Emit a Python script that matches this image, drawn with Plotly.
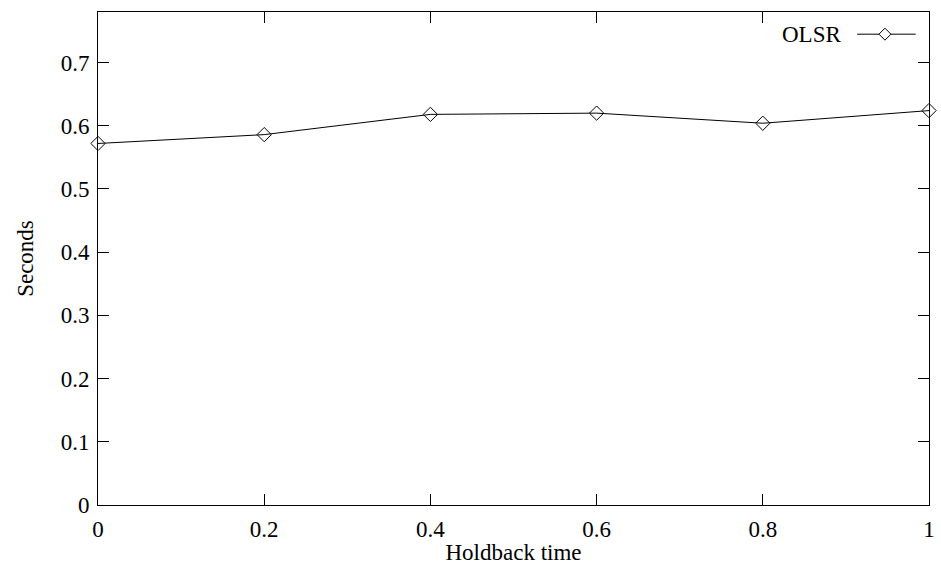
import plotly.graph_objects as go

# Holdback time vs. seconds for OLSR
holdback = [0, 0.2, 0.4, 0.6, 0.8, 1.0]
seconds = [0.572, 0.586, 0.618, 0.620, 0.604, 0.624]
x_ticks = [0, 0.2, 0.4, 0.6, 0.8, 1.0]
x_labels = ["0", "0.2", "0.4", "0.6", "0.8", "1"]
y_ticks = [0, 0.1, 0.2, 0.3, 0.4, 0.5, 0.6, 0.7]
y_labels = ["0", "0.1", "0.2", "0.3", "0.4", "0.5", "0.6", "0.7"]
series_name = "OLSR"

FONT = "Liberation Serif, Times New Roman, serif"
TICK_SIZE = 23
TITLE_SIZE = 23

fig = go.Figure()
fig.add_trace(go.Scatter(
    x=holdback, y=seconds, mode="lines+markers", name=series_name,
    line=dict(color="black", width=1),
    marker=dict(symbol="diamond-open", size=11, color="black", line=dict(width=1)),
    showlegend=False, cliponaxis=False,
))

axis_common = dict(
    showline=True, linecolor="black", linewidth=1, mirror="ticks",
    ticks="inside", ticklen=11, tickcolor="black", tickwidth=1,
    showgrid=False, zeroline=False,
    tickfont=dict(family=FONT, size=TICK_SIZE, color="black"),
)

fig.update_layout(
    width=941, height=571,
    margin=dict(l=98, r=6, t=12, b=66),
    paper_bgcolor="white", plot_bgcolor="white",
    font=dict(family=FONT, size=TICK_SIZE, color="black"),
    xaxis=dict(
        range=[0, 1], tickvals=x_ticks, ticktext=x_labels,
        title=dict(text="Holdback time", font=dict(family=FONT, size=TITLE_SIZE), standoff=3),
        ticklabelstandoff=3,
        **axis_common,
    ),
    yaxis=dict(
        range=[0, 0.78], tickvals=y_ticks, ticktext=y_labels,
        title=dict(text="Seconds", font=dict(family=FONT, size=TITLE_SIZE), standoff=20),
        ticklabelstandoff=3,
        **axis_common,
    ),
)

# Key: label on the left, line sample with a diamond on the right
fig.add_annotation(
    xref="paper", yref="paper", x=0.897, y=0.955, xanchor="right", yanchor="middle",
    text=series_name, showarrow=False, font=dict(family=FONT, size=TITLE_SIZE, color="black"),
)
fig.add_shape(
    type="line", xref="paper", yref="paper",
    x0=0.9135, x1=0.984, y0=0.955, y1=0.955,
    line=dict(color="black", width=1),
)
fig.add_shape(
    type="path", xref="paper", yref="paper",
    xsizemode="pixel", ysizemode="pixel", xanchor=0.947, yanchor=0.955,
    path="M -6 0 L 0 6 L 6 0 L 0 -6 Z",
    line=dict(color="black", width=1), fillcolor="white",
)

fig.write_html("out.html")
